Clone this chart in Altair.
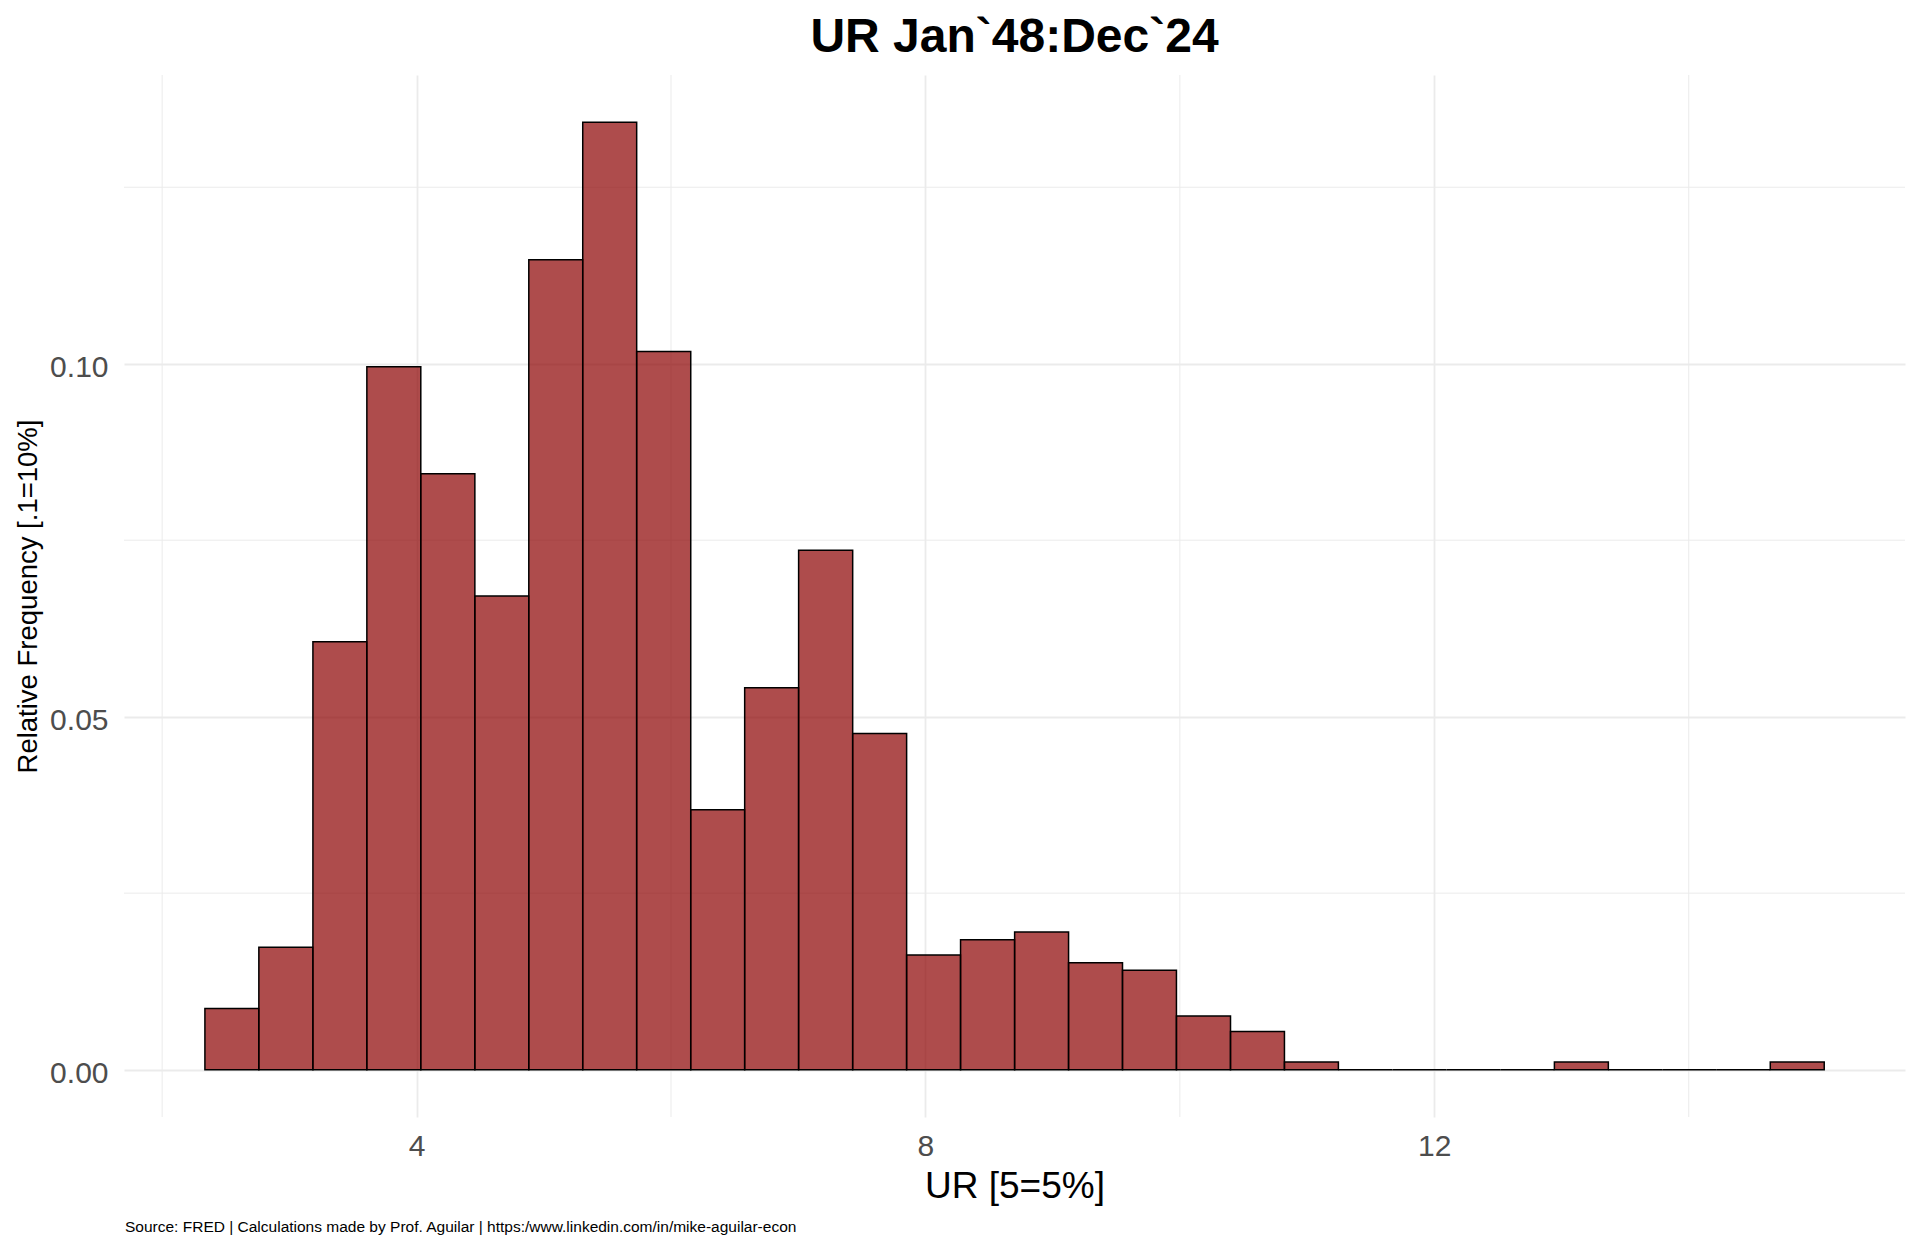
import altair as alt
import pandas as pd

# histogram of the monthly unemployment rate, 30 bins
bin_edges = [2.336, 2.760, 3.185, 3.609, 4.033, 4.458, 4.882, 5.306, 5.730, 6.155,
             6.579, 7.003, 7.428, 7.852, 8.276, 8.701, 9.125, 9.549, 9.973, 10.398,
             10.822, 11.246, 11.671, 12.095, 12.519, 12.944, 13.368, 13.792, 14.216,
             14.641, 15.065]
rel_freq = [0.00866, 0.01732, 0.06061, 0.09957, 0.08442, 0.06710, 0.11472, 0.13420,
            0.10173, 0.03680, 0.05411, 0.07359, 0.04762, 0.01623, 0.01840, 0.01948,
            0.01515, 0.01407, 0.00758, 0.00541, 0.00108, 0.0, 0.0, 0.0, 0.0,
            0.00108, 0.0, 0.0, 0.0, 0.00108]

x_major = [4, 8, 12]
x_minor = [2, 6, 10, 14]
y_major = [0.0, 0.05, 0.10]
y_minor = [0.025, 0.075, 0.125]

title_txt = "UR Jan`48:Dec`24"
x_title = "UR [5=5%]"
y_title = "Relative Frequency [.1=10%]"
caption = "Source: FRED | Calculations made by Prof. Aguilar | https:/www.linkedin.com/in/mike-aguilar-econ"

FONT = "Liberation Sans"
GRID = "#EBEBEB"
W, H = 1781, 1042

bars = pd.DataFrame({
    "lo": bin_edges[:-1],
    "hi": bin_edges[1:],
    "freq": rel_freq,
})

xs = alt.Scale(domain=[1.700, 15.700], nice=False, zero=False)
ys = alt.Scale(domain=[-0.00671, 0.1409], nice=False, zero=False)

x_axis = alt.Axis(
    values=x_major, grid=True, gridColor=GRID, gridWidth=1.8,
    domain=False, ticks=False, tickSize=0,
    labelFont=FONT, labelFontSize=30, labelColor="#4D4D4D", labelPadding=14,
    title=x_title, titleFont=FONT, titleFontSize=37, titleFontWeight="normal",
    titleColor="black", titleBaseline="alphabetic", titleX=W / 2, titleY=80)
y_axis = alt.Axis(
    values=y_major, format=".2f", grid=True, gridColor=GRID, gridWidth=1.8,
    domain=False, ticks=False, tickSize=0,
    labelFont=FONT, labelFontSize=30, labelColor="#4D4D4D", labelPadding=16,
    labelOffset=4,
    title=y_title, titleFont=FONT, titleFontSize=27.5, titleFontWeight="normal",
    titleColor="black", titleBaseline="alphabetic", titleX=-88, titleY=H / 2)

# minor grid lines (thinner), drawn under the bars
minor_v = alt.Chart(pd.DataFrame({"lo": x_minor})).mark_rule(
    color=GRID, strokeWidth=1
).encode(x=alt.X("lo:Q", scale=xs, axis=x_axis))

minor_h = alt.Chart(pd.DataFrame({"freq": y_minor})).mark_rule(
    color=GRID, strokeWidth=1
).encode(y=alt.Y("freq:Q", scale=ys, axis=y_axis))

hist = alt.Chart(bars).mark_rect(
    fill="#8B0000", fillOpacity=0.7, stroke="black", strokeWidth=1.5
).encode(
    x=alt.X("lo:Q", scale=xs, axis=x_axis),
    x2="hi:Q",
    y=alt.Y("freq:Q", scale=ys, axis=y_axis),
    y2=alt.datum(0),
)

head = alt.Chart(pd.DataFrame({"t": [title_txt]})).mark_text(
    align="center", baseline="alphabetic", font=FONT, fontSize=48,
    fontWeight="bold", color="black"
).encode(x=alt.value(W / 2), y=alt.value(-23), text="t:N")

cap = alt.Chart(pd.DataFrame({"t": [caption]})).mark_text(
    align="left", baseline="alphabetic", font=FONT, fontSize=15.5, color="black"
).encode(x=alt.value(1), y=alt.value(1157), text="t:N")

chart = alt.layer(minor_v, minor_h, hist, head, cap).properties(
    width=W, height=H,
    autosize=alt.AutoSizeParams(type="none"),
    padding={"left": 116, "top": 67, "right": 5, "bottom": 120},
    background="white",
).configure_view(stroke=None)

chart.save("out.html", embed_options={"renderer": "svg", "actions": False})
